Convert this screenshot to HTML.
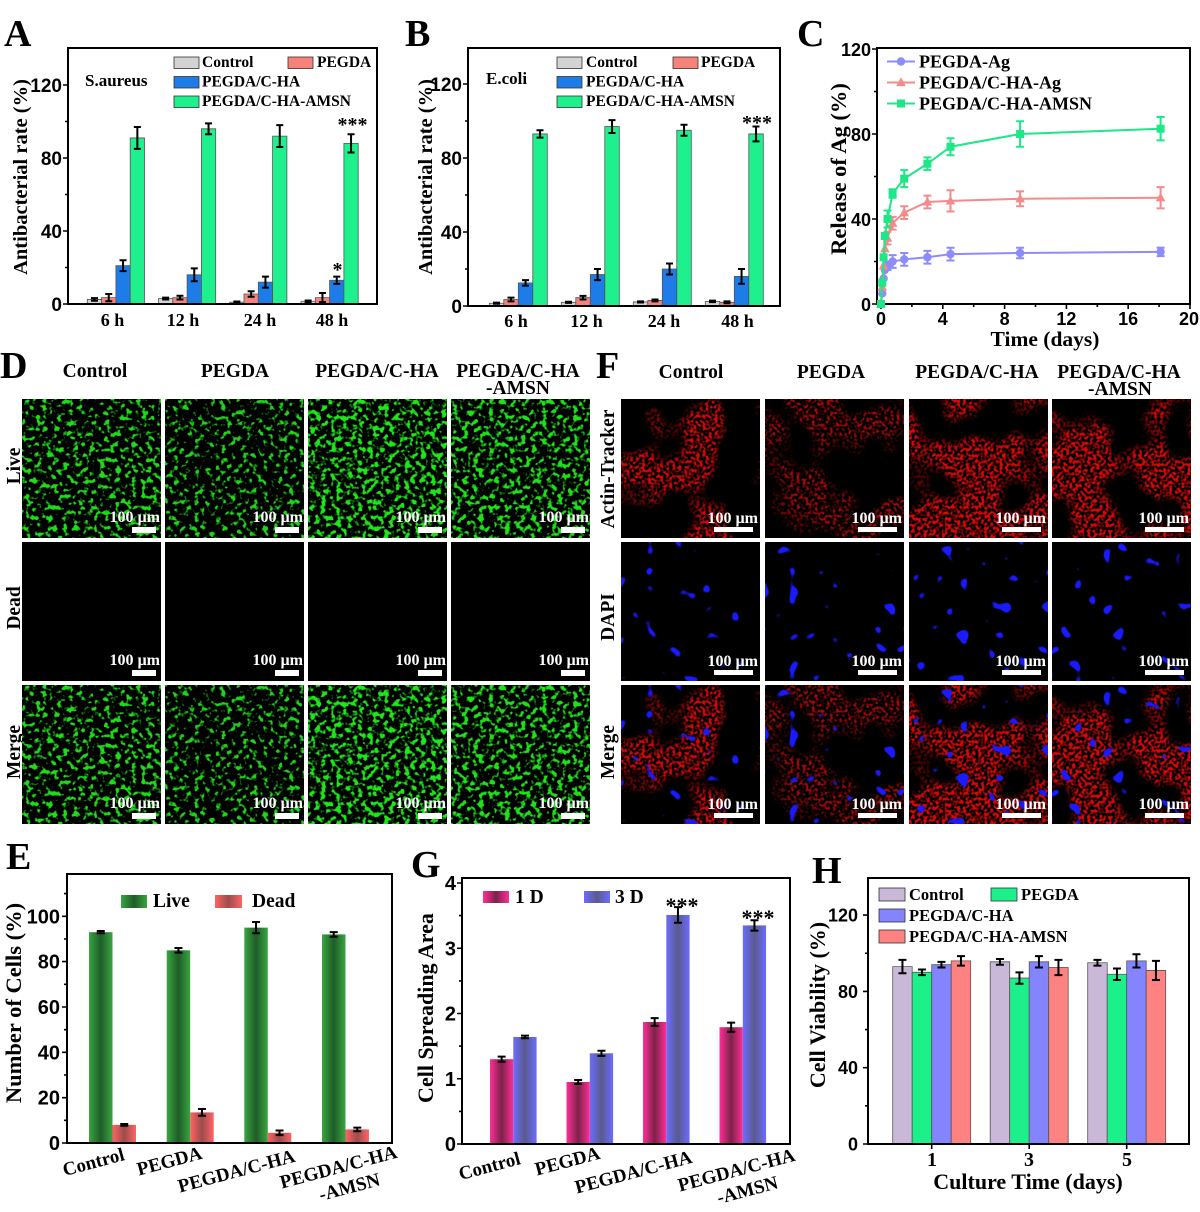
<!DOCTYPE html>
<html><head><meta charset="utf-8">
<style>
body{margin:0;background:#fff}
svg{display:block}
.t{font-family:"Liberation Serif",serif;font-weight:bold}
.n{font-family:"Liberation Sans",sans-serif;font-weight:bold}
.eb{stroke:#000;stroke-width:2;fill:none;vector-effect:non-scaling-stroke}
.bar{stroke:#555;stroke-width:0.8;vector-effect:non-scaling-stroke}
.ax{fill:none;stroke:#000;stroke-width:2}
.tk{fill:none;stroke:#000;stroke-width:1.6}
.sb{fill:#fff;font-family:"Liberation Serif",serif;font-weight:bold;font-size:16px}
</style></head><body>
<svg width="1200" height="1212" viewBox="0 0 1200 1212" xmlns="http://www.w3.org/2000/svg" xmlns:xlink="http://www.w3.org/1999/xlink">
<defs>
<linearGradient id="gLive" x1="0" x2="1" y1="0" y2="0"><stop offset="0" stop-color="#3aa540"/><stop offset="0.5" stop-color="#1e5c28"/><stop offset="1" stop-color="#3aa540"/></linearGradient>
<linearGradient id="gDead" x1="0" x2="1" y1="0" y2="0"><stop offset="0" stop-color="#ff6464"/><stop offset="0.5" stop-color="#9c4c4c"/><stop offset="1" stop-color="#ff6464"/></linearGradient>
<linearGradient id="g1D" x1="0" x2="1" y1="0" y2="0"><stop offset="0" stop-color="#ff2e96"/><stop offset="0.5" stop-color="#7c2249"/><stop offset="1" stop-color="#ff2e96"/></linearGradient>
<linearGradient id="g3D" x1="0" x2="1" y1="0" y2="0"><stop offset="0" stop-color="#6c6cff"/><stop offset="0.5" stop-color="#5a5a8e"/><stop offset="1" stop-color="#6c6cff"/></linearGradient>
<circle id="ci" r="4.2"/>
<path id="tri" d="M0 -5.2L4.8 3.6L-4.8 3.6Z"/>
<rect id="sq" x="-4" y="-4" width="8" height="8"/>

<filter id="gf1" x="0" y="0" width="1" height="1" color-interpolation-filters="sRGB">
 <feTurbulence type="fractalNoise" baseFrequency="0.19" numOctaves="2" seed="3"/>
 <feColorMatrix type="matrix" values="0 0 0 0 0.12  0 0 0 0 0.86  0 0 0 0 0.1  0 7 0 0 -3.68"/>
</filter>
<filter id="gf2" x="0" y="0" width="1" height="1" color-interpolation-filters="sRGB">
 <feTurbulence type="fractalNoise" baseFrequency="0.19" numOctaves="2" seed="8"/>
 <feColorMatrix type="matrix" values="0 0 0 0 0.12  0 0 0 0 0.83  0 0 0 0 0.1  0 7 0 0 -3.8"/>
</filter>
<filter id="gf3" x="0" y="0" width="1" height="1" color-interpolation-filters="sRGB">
 <feTurbulence type="fractalNoise" baseFrequency="0.19" numOctaves="2" seed="13"/>
 <feColorMatrix type="matrix" values="0 0 0 0 0.12  0 0 0 0 0.9  0 0 0 0 0.1  0 7 0 0 -3.45"/>
</filter>
<filter id="gf4" x="0" y="0" width="1" height="1" color-interpolation-filters="sRGB">
 <feTurbulence type="fractalNoise" baseFrequency="0.19" numOctaves="2" seed="19"/>
 <feColorMatrix type="matrix" values="0 0 0 0 0.12  0 0 0 0 0.88  0 0 0 0 0.1  0 7 0 0 -3.55"/>
</filter>

<filter id="rf1" x="0" y="0" width="1" height="1" color-interpolation-filters="sRGB">
 <feTurbulence type="fractalNoise" baseFrequency="0.018" numOctaves="2" seed="11"/>
 <feColorMatrix type="matrix" values="0 0 0 0 0.82  0 0 0 0 0.03  0 0 0 0 0.03  8 0 0 0 -4.0" result="m"/>
 <feTurbulence type="fractalNoise" baseFrequency="0.33" numOctaves="1" seed="4"/>
 <feColorMatrix type="matrix" values="0 0 0 0 0  0 0 0 0 0  0 0 0 0 0  5 0 0 0 -2.15" result="f"/>
 <feComposite in="m" in2="f" operator="in"/>
</filter>
<filter id="rf2" x="0" y="0" width="1" height="1" color-interpolation-filters="sRGB">
 <feTurbulence type="fractalNoise" baseFrequency="0.018" numOctaves="2" seed="23"/>
 <feColorMatrix type="matrix" values="0 0 0 0 0.64  0 0 0 0 0.03  0 0 0 0 0.03  8 0 0 0 -3.5" result="m"/>
 <feTurbulence type="fractalNoise" baseFrequency="0.33" numOctaves="1" seed="6"/>
 <feColorMatrix type="matrix" values="0 0 0 0 0  0 0 0 0 0  0 0 0 0 0  5 0 0 0 -2.3" result="f"/>
 <feComposite in="m" in2="f" operator="in"/>
</filter>
<filter id="rf3" x="0" y="0" width="1" height="1" color-interpolation-filters="sRGB">
 <feTurbulence type="fractalNoise" baseFrequency="0.018" numOctaves="2" seed="31"/>
 <feColorMatrix type="matrix" values="0 0 0 0 0.84  0 0 0 0 0.03  0 0 0 0 0.03  8 0 0 0 -3.3" result="m"/>
 <feTurbulence type="fractalNoise" baseFrequency="0.33" numOctaves="1" seed="9"/>
 <feColorMatrix type="matrix" values="0 0 0 0 0  0 0 0 0 0  0 0 0 0 0  5 0 0 0 -2.1" result="f"/>
 <feComposite in="m" in2="f" operator="in"/>
</filter>
<filter id="rf4" x="0" y="0" width="1" height="1" color-interpolation-filters="sRGB">
 <feTurbulence type="fractalNoise" baseFrequency="0.018" numOctaves="2" seed="41"/>
 <feColorMatrix type="matrix" values="0 0 0 0 0.84  0 0 0 0 0.03  0 0 0 0 0.03  8 0 0 0 -3.6" result="m"/>
 <feTurbulence type="fractalNoise" baseFrequency="0.33" numOctaves="1" seed="12"/>
 <feColorMatrix type="matrix" values="0 0 0 0 0  0 0 0 0 0  0 0 0 0 0  5 0 0 0 -2.1" result="f"/>
 <feComposite in="m" in2="f" operator="in"/>
</filter>

<filter id="bf1" x="0" y="0" width="1" height="1" color-interpolation-filters="sRGB">
 <feTurbulence type="fractalNoise" baseFrequency="0.07" numOctaves="1" seed="21"/>
 <feColorMatrix type="matrix" values="0 0 0 0 0.1  0 0 0 0 0.1  0 0 0 0 1  0 0 24 0 -16"/>
</filter>
<filter id="bf2" x="0" y="0" width="1" height="1" color-interpolation-filters="sRGB">
 <feTurbulence type="fractalNoise" baseFrequency="0.07" numOctaves="1" seed="37"/>
 <feColorMatrix type="matrix" values="0 0 0 0 0.1  0 0 0 0 0.1  0 0 0 0 1  0 0 24 0 -16"/>
</filter>
</defs>

<rect width="1200" height="1212" fill="#fff"/>

<!-- ================= PANEL A ================= -->
<text class="t" x="4" y="46" font-size="38">A</text>
<g transform="matrix(1 0 0 -1.825 0 304)">
 <rect class="bar" x="87.3" y="0" width="14.3" height="2.5" fill="#d3d3d3"/>
 <rect class="bar" x="101.6" y="0" width="14.3" height="3.5" fill="#f7827c"/>
 <rect class="bar" x="115.9" y="0" width="14.3" height="21" fill="#1e7ce8"/>
 <rect class="bar" x="130.2" y="0" width="14.3" height="91" fill="#1df08c"/>
 <rect class="bar" x="158.5" y="0" width="14.3" height="3" fill="#d3d3d3"/>
 <rect class="bar" x="172.8" y="0" width="14.3" height="3.5" fill="#f7827c"/>
 <rect class="bar" x="187.1" y="0" width="14.3" height="16" fill="#1e7ce8"/>
 <rect class="bar" x="201.4" y="0" width="14.3" height="96" fill="#1df08c"/>
 <rect class="bar" x="229.7" y="0" width="14.3" height="1" fill="#d3d3d3"/>
 <rect class="bar" x="244.0" y="0" width="14.3" height="5.5" fill="#f7827c"/>
 <rect class="bar" x="258.3" y="0" width="14.3" height="12" fill="#1e7ce8"/>
 <rect class="bar" x="272.6" y="0" width="14.3" height="92" fill="#1df08c"/>
 <rect class="bar" x="301" y="0" width="14.3" height="1.5" fill="#d3d3d3"/>
 <rect class="bar" x="315.3" y="0" width="14.3" height="3.5" fill="#f7827c"/>
 <rect class="bar" x="329.6" y="0" width="14.3" height="13" fill="#1e7ce8"/>
 <rect class="bar" x="343.9" y="0" width="14.3" height="88" fill="#1df08c"/>
 <path class="eb" d="M94.45 1.8V3.2M91 1.8H98M91 3.2H98M165.65 2.5V3.5M162.15 2.5H169.15M162.15 3.5H169.15M236.85 0.6V1.4M233.35 0.6H240.35M233.35 1.4H240.35M308.15 1.1V1.9M304.65 1.1H311.65M304.65 1.9H311.65
 M108.75 1.5V5.5M105.25 1.5H112.25M105.25 5.5H112.25M179.95 2.5V4.5M176.45 2.5H183.45M176.45 4.5H183.45M251.15 4V7M247.65 4H254.65M247.65 7H254.65M322.45 1V6M318.95 1H325.95M318.95 6H325.95
 M123.05 18V24M119.55 18H126.55M119.55 24H126.55M194.25 12.5V19.5M190.75 12.5H197.75M190.75 19.5H197.75M265.45 9V15M261.95 9H268.95M261.95 15H268.95M336.75 11V15M333.25 11H340.25M333.25 15H340.25
 M137.35 85V97M133.85 85H140.85M133.85 97H140.85M208.55 93V99M205.05 93H212.05M205.05 99H212.05M279.75 86V98M276.25 86H283.25M276.25 98H283.25M351.05 83V93M347.55 83H354.55M347.55 93H354.55"/>
</g>
<rect class="ax" x="68" y="48" width="309" height="256"/>
<path class="tk" d="M63 304H68M63 231H68M63 158H68M63 85H68M65 267.5H68M65 194.5H68M65 121.5H68"/>
<g class="n" font-size="19" text-anchor="end">
 <text x="62" y="311">0</text><text x="62" y="238">40</text><text x="62" y="165">80</text><text x="62" y="92">120</text>
</g>
<g class="t" font-size="18" text-anchor="middle">
 <text x="112.5" y="326">6 h</text><text x="183" y="326">12 h</text><text x="260" y="326">24 h</text><text x="332" y="326">48 h</text>
</g>
<text class="t" font-size="20.5" text-anchor="middle" transform="translate(27,177) rotate(-90)">Antibacterial rate (%)</text>
<text class="t" x="85" y="86" font-size="17">S.aureus</text>
<g stroke="#333" stroke-width="0.8">
 <rect x="174" y="57" width="25" height="11.5" fill="#d3d3d3"/>
 <rect x="288" y="57" width="25" height="11.5" fill="#f7827c"/>
 <rect x="174" y="76.5" width="25" height="11.5" fill="#1e7ce8"/>
 <rect x="174" y="96" width="25" height="11.5" fill="#1df08c"/>
</g>
<g class="t" font-size="15.5">
 <text x="202" y="67">Control</text><text x="317" y="67">PEGDA</text>
 <text x="202" y="86.5">PEGDA/C-HA</text><text x="202" y="106">PEGDA/C-HA-AMSN</text>
</g>
<text class="t" x="352.5" y="131" font-size="20" text-anchor="middle">***</text>
<text class="t" x="337.5" y="276" font-size="20" text-anchor="middle">*</text>

<!-- ================= PANEL B ================= -->
<text class="t" x="405" y="46" font-size="38">B</text>
<g transform="matrix(1 0 0 -1.85 0 306)">
 <rect class="bar" x="489.3" y="0" width="14.5" height="1.5" fill="#d3d3d3"/>
 <rect class="bar" x="503.8" y="0" width="14.5" height="3.5" fill="#f7827c"/>
 <rect class="bar" x="518.3" y="0" width="14.5" height="12.5" fill="#1e7ce8"/>
 <rect class="bar" x="532.8" y="0" width="14.5" height="93" fill="#1df08c"/>
 <rect class="bar" x="561.3" y="0" width="14.5" height="2" fill="#d3d3d3"/>
 <rect class="bar" x="575.8" y="0" width="14.5" height="4.5" fill="#f7827c"/>
 <rect class="bar" x="590.3" y="0" width="14.5" height="17" fill="#1e7ce8"/>
 <rect class="bar" x="604.8" y="0" width="14.5" height="97" fill="#1df08c"/>
 <rect class="bar" x="633.3" y="0" width="14.5" height="2.2" fill="#d3d3d3"/>
 <rect class="bar" x="647.8" y="0" width="14.5" height="3" fill="#f7827c"/>
 <rect class="bar" x="662.3" y="0" width="14.5" height="20" fill="#1e7ce8"/>
 <rect class="bar" x="676.8" y="0" width="14.5" height="95" fill="#1df08c"/>
 <rect class="bar" x="705.3" y="0" width="14.5" height="2.5" fill="#d3d3d3"/>
 <rect class="bar" x="719.8" y="0" width="14.5" height="2" fill="#f7827c"/>
 <rect class="bar" x="734.3" y="0" width="14.5" height="16" fill="#1e7ce8"/>
 <rect class="bar" x="748.8" y="0" width="14.5" height="93" fill="#1df08c"/>
 <path class="eb" d="M496.55 1.2V1.8M493 1.2H500M493 1.8H500M568.55 1.7V2.3M565 1.7H572M565 2.3H572M640.55 1.9V2.5M637 1.9H644M637 2.5H644M712.55 2.1V2.9M709 2.1H716M709 2.9H716
 M511.05 2.5V4.5M507.5 2.5H514.5M507.5 4.5H514.5M583.05 3.5V5.5M579.5 3.5H586.5M579.5 5.5H586.5M655.05 2.5V3.5M651.5 2.5H658.5M651.5 3.5H658.5M727.05 1.5V2.5M723.5 1.5H730.5M723.5 2.5H730.5
 M525.55 11V14M522 11H529M522 14H529M597.55 14V20M594 14H601M594 20H601M669.55 17V23M666 17H673M666 23H673M741.55 12V20M738 12H745M738 20H745
 M540.05 91V95M536.5 91H543.5M536.5 95H543.5M612.05 93.5V100.5M608.5 93.5H615.5M608.5 100.5H615.5M684.05 92V98M680.5 92H687.5M680.5 98H687.5M756.05 89V97M752.5 89H759.5M752.5 97H759.5"/>
</g>
<rect class="ax" x="468" y="48" width="312" height="258"/>
<path class="tk" d="M463 306H468M463 232H468M463 158H468M463 84H468M465 269H468M465 195H468M465 121H468"/>
<g class="n" font-size="19" text-anchor="end">
 <text x="462" y="313">0</text><text x="462" y="239">40</text><text x="462" y="165">80</text><text x="462" y="91">120</text>
</g>
<g class="t" font-size="18" text-anchor="middle">
 <text x="516" y="327">6 h</text><text x="586.5" y="327">12 h</text><text x="664" y="327">24 h</text><text x="737.5" y="327">48 h</text>
</g>
<text class="t" font-size="20.5" text-anchor="middle" transform="translate(432,177) rotate(-90)">Antibacterial rate (%)</text>
<text class="t" x="486" y="84" font-size="17">E.coli</text>
<g stroke="#333" stroke-width="0.8">
 <rect x="557" y="57" width="25" height="11.5" fill="#d3d3d3"/>
 <rect x="673" y="57" width="25" height="11.5" fill="#f7827c"/>
 <rect x="557" y="76.5" width="25" height="11.5" fill="#1e7ce8"/>
 <rect x="557" y="96" width="25" height="11.5" fill="#1df08c"/>
</g>
<g class="t" font-size="15.5">
 <text x="586" y="67">Control</text><text x="701" y="67">PEGDA</text>
 <text x="586" y="86.5">PEGDA/C-HA</text><text x="586" y="106">PEGDA/C-HA-AMSN</text>
</g>
<text class="t" x="757" y="129" font-size="20" text-anchor="middle">***</text>

<!-- ================= PANEL C ================= -->
<text class="t" x="797" y="46" font-size="38">C</text>
<rect class="ax" x="877" y="48" width="313" height="256"/>
<path class="tk" d="M872 304H877M872 219H877M872 134H877M872 49H877M874 261.5H877M874 176.5H877M874 91.5H877
 M881 304V309M942.8 304V309M1004.6 304V309M1066.4 304V309M1128.2 304V309M1190 304V309M911.9 304V307M973.7 304V307M1035.5 304V307M1097.3 304V307M1159.1 304V307"/>
<g class="n" font-size="18" text-anchor="end">
 <text x="871" y="311">0</text><text x="871" y="226">40</text><text x="871" y="141">80</text><text x="871" y="56">120</text>
</g>
<g class="n" font-size="18" text-anchor="middle">
 <text x="881" y="325">0</text><text x="942.8" y="325">4</text><text x="1004.6" y="325">8</text><text x="1066.4" y="325">12</text><text x="1128.2" y="325">16</text><text x="1189" y="325">20</text>
</g>
<text class="t" x="1045" y="346" font-size="21.5" text-anchor="middle">Time (days)</text>
<text class="t" font-size="22.5" text-anchor="middle" transform="translate(846,169) rotate(-90)">Release of Ag (%)</text>
<!-- blue -->
<g stroke="#8c8cff" fill="#8c8cff">
 <polyline fill="none" stroke-width="2" points="881,304 882.3,293.4 883.6,278.5 884.9,270 887.5,265.75 892.6,261.5 904.2,259.4 927.4,257.25 950.5,254.1 1020.1,253 1160.6,251.9"/>
 <path fill="none" stroke-width="2" d="M887.5 261.5V270M883.5 261.5H891.5M883.5 270H891.5M892.6 255.1V267.9M888.6 255.1H896.6M888.6 267.9H896.6M904.2 253V265.8M900.2 253H908.2M900.2 265.8H908.2M927.4 250.85V263.65M923.4 250.85H931.4M923.4 263.65H931.4M950.5 247.7V260.5M946.5 247.7H954.5M946.5 260.5H954.5M1020.1 247.7V258.3M1016.1 247.7H1024.1M1016.1 258.3H1024.1M1160.6 247.65V256.15M1156.6 247.65H1164.6M1156.6 256.15H1164.6"/>
 <g stroke="none">
 <use xlink:href="#ci" x="881" y="304"/><use xlink:href="#ci" x="882.3" y="293.4"/><use xlink:href="#ci" x="883.6" y="278.5"/><use xlink:href="#ci" x="884.9" y="270"/><use xlink:href="#ci" x="887.5" y="265.75"/><use xlink:href="#ci" x="892.6" y="261.5"/><use xlink:href="#ci" x="904.2" y="259.4"/><use xlink:href="#ci" x="927.4" y="257.25"/><use xlink:href="#ci" x="950.5" y="254.1"/><use xlink:href="#ci" x="1020.1" y="253"/><use xlink:href="#ci" x="1160.6" y="251.9"/>
 </g>
</g>
<!-- red -->
<g stroke="#f48a8a" fill="#f48a8a">
 <polyline fill="none" stroke-width="2" points="881,304 882.3,287 883.6,265.75 884.9,248.75 887.5,238.1 892.6,223.25 904.2,212.6 927.4,202 950.5,200.9 1020.1,198.8 1160.6,197.75"/>
 <path fill="none" stroke-width="2" d="M887.5 231.7V244.5M883.5 231.7H891.5M883.5 244.5H891.5M892.6 216.85V229.65M888.6 216.85H896.6M888.6 229.65H896.6M904.2 206.2V219M900.2 206.2H908.2M900.2 219H908.2M927.4 195.6V208.4M923.4 195.6H931.4M923.4 208.4H931.4M950.5 190.3V211.5M946.5 190.3H954.5M946.5 211.5H954.5M1020.1 191.4V206.2M1016.1 191.4H1024.1M1016.1 206.2H1024.1M1160.6 187.15V208.35M1156.6 187.15H1164.6M1156.6 208.35H1164.6"/>
 <g stroke="none">
 <use xlink:href="#tri" x="881" y="304"/><use xlink:href="#tri" x="882.3" y="287"/><use xlink:href="#tri" x="883.6" y="265.75"/><use xlink:href="#tri" x="884.9" y="248.75"/><use xlink:href="#tri" x="887.5" y="238.1"/><use xlink:href="#tri" x="892.6" y="223.25"/><use xlink:href="#tri" x="904.2" y="212.6"/><use xlink:href="#tri" x="927.4" y="202"/><use xlink:href="#tri" x="950.5" y="200.9"/><use xlink:href="#tri" x="1020.1" y="198.8"/><use xlink:href="#tri" x="1160.6" y="197.75"/>
 </g>
</g>
<!-- green -->
<g stroke="#1de887" fill="#1de887">
 <polyline fill="none" stroke-width="2" points="881,304 882.3,282.75 883.6,257.25 884.9,236 887.5,219 892.6,193.5 904.2,178.6 927.4,163.75 950.5,146.75 1020.1,134 1160.6,128.7"/>
 <path fill="none" stroke-width="2" d="M887.5 210.5V227.5M883.5 210.5H891.5M883.5 227.5H891.5M892.6 189.25V197.75M888.6 189.25H896.6M888.6 197.75H896.6M904.2 170.1V187.1M900.2 170.1H908.2M900.2 187.1H908.2M927.4 157.35V170.15M923.4 157.35H931.4M923.4 170.15H931.4M950.5 138.25V155.25M946.5 138.25H954.5M946.5 155.25H954.5M1020.1 121.25V146.75M1016.1 121.25H1024.1M1016.1 146.75H1024.1M1160.6 117V140.4M1156.6 117H1164.6M1156.6 140.4H1164.6"/>
 <g stroke="none">
 <use xlink:href="#sq" x="881" y="304"/><use xlink:href="#sq" x="882.3" y="282.75"/><use xlink:href="#sq" x="883.6" y="257.25"/><use xlink:href="#sq" x="884.9" y="236"/><use xlink:href="#sq" x="887.5" y="219"/><use xlink:href="#sq" x="892.6" y="193.5"/><use xlink:href="#sq" x="904.2" y="178.6"/><use xlink:href="#sq" x="927.4" y="163.75"/><use xlink:href="#sq" x="950.5" y="146.75"/><use xlink:href="#sq" x="1020.1" y="134"/><use xlink:href="#sq" x="1160.6" y="128.7"/>
 </g>
</g>
<!-- legend C -->
<path d="M887 61.5H915" stroke="#8c8cff" stroke-width="2"/><use xlink:href="#ci" x="901" y="61.5" fill="#8c8cff"/>
<path d="M887 82.5H915" stroke="#f48a8a" stroke-width="2"/><use xlink:href="#tri" x="901" y="82.5" fill="#f48a8a"/>
<path d="M887 103.5H915" stroke="#1de887" stroke-width="2"/><use xlink:href="#sq" x="901" y="103.5" fill="#1de887"/>
<g class="t" font-size="18">
 <text x="919" y="67.5">PEGDA-Ag</text><text x="919" y="88.5">PEGDA/C-HA-Ag</text><text x="919" y="109.5">PEGDA/C-HA-AMSN</text>
</g>

<!-- ================= PANEL D ================= -->
<text class="t" x="0" y="378" font-size="38">D</text>
<g class="t" font-size="19.5" text-anchor="middle">
 <text x="95" y="377">Control</text><text x="235" y="377">PEGDA</text><text x="377" y="377">PEGDA/C-HA</text>
 <text x="518" y="377">PEGDA/C-HA</text><text x="518" y="394">-AMSN</text>
 <text transform="translate(20,466) rotate(-90)">Live</text>
 <text transform="translate(20,608) rotate(-90)">Dead</text>
 <text transform="translate(20,752) rotate(-90)">Merge</text>
</g>
<g id="L1"><rect x="22" y="399" width="139" height="139" fill="#000"/><rect x="22" y="399" width="139" height="139" filter="url(#gf1)"/></g>
<g id="L2"><rect x="165" y="399" width="139" height="139" fill="#000"/><rect x="165" y="399" width="139" height="139" filter="url(#gf2)"/></g>
<g id="L3"><rect x="308" y="399" width="139" height="139" fill="#000"/><rect x="308" y="399" width="139" height="139" filter="url(#gf3)"/></g>
<g id="L4"><rect x="451" y="399" width="139" height="139" fill="#000"/><rect x="451" y="399" width="139" height="139" filter="url(#gf4)"/></g>
<rect x="22" y="542" width="139" height="139" fill="#000"/>
<rect x="165" y="542" width="139" height="139" fill="#000"/>
<rect x="308" y="542" width="139" height="139" fill="#000"/>
<rect x="451" y="542" width="139" height="139" fill="#000"/>
<use xlink:href="#L1" y="286"/><use xlink:href="#L2" y="286"/><use xlink:href="#L3" y="286"/><use xlink:href="#L4" y="286"/>
<g fill="#fff">
 <rect x="132" y="527" width="24" height="6"/><rect x="275" y="527" width="24" height="6"/><rect x="418" y="527" width="24" height="6"/><rect x="561" y="527" width="24" height="6"/>
 <rect x="132" y="670" width="24" height="6"/><rect x="275" y="670" width="24" height="6"/><rect x="418" y="670" width="24" height="6"/><rect x="561" y="670" width="24" height="6"/>
 <rect x="132" y="813" width="24" height="6"/><rect x="275" y="813" width="24" height="6"/><rect x="418" y="813" width="24" height="6"/><rect x="561" y="813" width="24" height="6"/>
</g>
<g class="sb" text-anchor="end">
 <text x="160" y="522">100 µm</text><text x="303" y="522">100 µm</text><text x="446" y="522">100 µm</text><text x="589" y="522">100 µm</text>
 <text x="160" y="665">100 µm</text><text x="303" y="665">100 µm</text><text x="446" y="665">100 µm</text><text x="589" y="665">100 µm</text>
 <text x="160" y="808">100 µm</text><text x="303" y="808">100 µm</text><text x="446" y="808">100 µm</text><text x="589" y="808">100 µm</text>
</g>

<!-- ================= PANEL F ================= -->
<text class="t" x="596" y="378" font-size="38">F</text>
<g class="t" font-size="19.5" text-anchor="middle">
 <text x="691" y="378">Control</text><text x="831" y="378">PEGDA</text><text x="977" y="378">PEGDA/C-HA</text>
 <text x="1119" y="378">PEGDA/C-HA</text><text x="1120" y="395">-AMSN</text>
 <text transform="translate(614,469) rotate(-90)">Actin-Tracker</text>
 <text transform="translate(614,617) rotate(-90)">DAPI</text>
 <text transform="translate(614,752) rotate(-90)">Merge</text>
</g>
<g id="A1"><rect x="621" y="399" width="139" height="139" fill="#000"/><rect x="621" y="399" width="139" height="139" filter="url(#rf1)"/></g>
<g id="A2"><rect x="765" y="399" width="139" height="139" fill="#000"/><rect x="765" y="399" width="139" height="139" filter="url(#rf2)"/></g>
<g id="A3"><rect x="909" y="399" width="139" height="139" fill="#000"/><rect x="909" y="399" width="139" height="139" filter="url(#rf3)"/></g>
<g id="A4"><rect x="1052" y="399" width="139" height="139" fill="#000"/><rect x="1052" y="399" width="139" height="139" filter="url(#rf4)"/></g>
<rect x="621" y="542" width="139" height="139" fill="#000"/>
<rect x="765" y="542" width="139" height="139" fill="#000"/>
<rect x="909" y="542" width="139" height="139" fill="#000"/>
<rect x="1052" y="542" width="139" height="139" fill="#000"/>
<rect id="N1" x="621" y="542" width="139" height="139" filter="url(#bf1)"/>
<rect id="N2" x="765" y="542" width="139" height="139" filter="url(#bf2)"/>
<rect id="N3" x="909" y="542" width="139" height="139" filter="url(#bf1)"/>
<rect id="N4" x="1052" y="542" width="139" height="139" filter="url(#bf2)"/>
<use xlink:href="#A1" y="286"/><use xlink:href="#A2" y="286"/><use xlink:href="#A3" y="286"/><use xlink:href="#A4" y="286"/>
<use xlink:href="#N1" y="143"/><use xlink:href="#N2" y="143"/><use xlink:href="#N3" y="143"/><use xlink:href="#N4" y="143"/>
<g fill="#fff">
 <rect x="714" y="527" width="39" height="5"/><rect x="858" y="527" width="39" height="5"/><rect x="1002" y="527" width="39" height="5"/><rect x="1145" y="527" width="39" height="5"/>
 <rect x="714" y="670" width="39" height="5"/><rect x="858" y="670" width="39" height="5"/><rect x="1002" y="670" width="39" height="5"/><rect x="1145" y="670" width="39" height="5"/>
 <rect x="714" y="813" width="39" height="5"/><rect x="858" y="813" width="39" height="5"/><rect x="1002" y="813" width="39" height="5"/><rect x="1145" y="813" width="39" height="5"/>
</g>
<g class="sb" text-anchor="end">
 <text x="758" y="523">100 µm</text><text x="902" y="523">100 µm</text><text x="1046" y="523">100 µm</text><text x="1189" y="523">100 µm</text>
 <text x="758" y="666">100 µm</text><text x="902" y="666">100 µm</text><text x="1046" y="666">100 µm</text><text x="1189" y="666">100 µm</text>
 <text x="758" y="809">100 µm</text><text x="902" y="809">100 µm</text><text x="1046" y="809">100 µm</text><text x="1189" y="809">100 µm</text>
</g>

<!-- ================= PANEL E ================= -->
<text class="t" x="6" y="869" font-size="38">E</text>
<g transform="matrix(1 0 0 -2.267 0 1143)">
 <rect x="89" y="0" width="23.5" height="93" fill="url(#gLive)"/>
 <rect x="112.5" y="0" width="23.5" height="8" fill="url(#gDead)"/>
 <rect x="166.7" y="0" width="23.5" height="85" fill="url(#gLive)"/>
 <rect x="190.2" y="0" width="23.5" height="13.5" fill="url(#gDead)"/>
 <rect x="244.3" y="0" width="23.5" height="95" fill="url(#gLive)"/>
 <rect x="267.8" y="0" width="23.5" height="4.5" fill="url(#gDead)"/>
 <rect x="322" y="0" width="23.5" height="92" fill="url(#gLive)"/>
 <rect x="345.5" y="0" width="23.5" height="6" fill="url(#gDead)"/>
 <path class="eb" d="M100.75 92.5V93.5M96.75 92.5H104.75M96.75 93.5H104.75M178.45 84V86M174.45 84H182.45M174.45 86H182.45M256.05 92.5V97.5M252.05 92.5H260.05M252.05 97.5H260.05M333.75 91V93M329.75 91H337.75M329.75 93H337.75
 M124.25 7.6V8.4M120.25 7.6H128.25M120.25 8.4H128.25M201.95 12V15M197.95 12H205.95M197.95 15H205.95M279.55 3.5V5.5M275.55 3.5H283.55M275.55 5.5H283.55M357.25 5.2V6.8M353.25 5.2H361.25M353.25 6.8H361.25"/>
</g>
<rect class="ax" x="67" y="874" width="325" height="269"/>
<path class="tk" d="M62 1143H67M62 1097.7H67M62 1052.3H67M62 1007H67M62 961.6H67M62 916.3H67M64 1120.3H67M64 1075H67M64 1029.7H67M64 984.3H67M64 939H67M64 893.6H67"/>
<g class="n" font-size="20" text-anchor="end">
 <text x="60" y="1150">0</text><text x="60" y="1104.7">20</text><text x="60" y="1059.3">40</text><text x="60" y="1014">60</text><text x="60" y="968.6">80</text><text x="60" y="923.3">100</text>
</g>
<text class="t" font-size="22.5" text-anchor="middle" transform="translate(21,1003) rotate(-90)">Number of Cells (%)</text>
<rect x="121" y="895" width="26" height="13" fill="url(#gLive)"/>
<rect x="215" y="895" width="27" height="13" fill="url(#gDead)"/>
<g class="t" font-size="19.5"><text x="153" y="907">Live</text><text x="252" y="907">Dead</text></g>
<g class="t" font-size="19" text-anchor="middle">
 <text transform="translate(95,1168) rotate(-15)">Control</text>
 <text transform="translate(171,1167) rotate(-15)">PEGDA</text>
 <text transform="translate(238,1177) rotate(-15)">PEGDA/C-HA</text>
 <text transform="translate(340,1173) rotate(-15)">PEGDA/C-HA</text>
 <text transform="translate(351,1193) rotate(-15)">-AMSN</text>
</g>

<!-- ================= PANEL G ================= -->
<text class="t" x="411" y="877" font-size="38">G</text>
<g transform="matrix(1 0 0 -65.25 0 1144)">
 <rect x="490" y="0" width="23.3" height="1.30" fill="url(#g1D)"/>
 <rect x="513.3" y="0" width="23.3" height="1.64" fill="url(#g3D)"/>
 <rect x="566.5" y="0" width="23.3" height="0.95" fill="url(#g1D)"/>
 <rect x="589.8" y="0" width="23.3" height="1.39" fill="url(#g3D)"/>
 <rect x="643" y="0" width="23.3" height="1.87" fill="url(#g1D)"/>
 <rect x="666.3" y="0" width="23.3" height="3.51" fill="url(#g3D)"/>
 <rect x="719.5" y="0" width="23.3" height="1.79" fill="url(#g1D)"/>
 <rect x="742.8" y="0" width="23.3" height="3.35" fill="url(#g3D)"/>
 <path class="eb" d="M501.65 1.26V1.34M497.65 1.26H505.65M497.65 1.34H505.65M578.15 0.92V0.98M574.15 0.92H582.15M574.15 0.98H582.15M654.65 1.81V1.93M650.65 1.81H658.65M650.65 1.93H658.65M731.15 1.72V1.86M727.15 1.72H735.15M727.15 1.86H735.15
 M524.95 1.62V1.66M520.95 1.62H528.95M520.95 1.66H528.95M601.45 1.35V1.43M597.45 1.35H605.45M597.45 1.43H605.45M677.95 3.39V3.63M673.95 3.39H681.95M673.95 3.63H681.95M754.45 3.27V3.43M750.45 3.27H758.45M750.45 3.43H758.45"/>
</g>
<rect class="ax" x="462" y="878" width="328" height="266"/>
<path class="tk" d="M457 1144H462M457 1078.75H462M457 1013.5H462M457 948.25H462M457 883H462M459 1111.4H462M459 1046.1H462M459 980.9H462M459 915.6H462"/>
<g class="n" font-size="20" text-anchor="end">
 <text x="456" y="1151">0</text><text x="456" y="1085.75">1</text><text x="456" y="1020.5">2</text><text x="456" y="955.25">3</text><text x="456" y="890">4</text>
</g>
<text class="t" font-size="22" text-anchor="middle" transform="translate(433,1008) rotate(-90)">Cell Spreading Area</text>
<rect x="483" y="891" width="26" height="12" fill="url(#g1D)"/>
<rect x="584" y="891" width="26" height="12" fill="url(#g3D)"/>
<g class="t" font-size="19.5"><text x="515" y="903">1 D</text><text x="615" y="903">3 D</text></g>
<text class="t" x="682" y="913" font-size="22" text-anchor="middle">***</text>
<text class="t" x="758" y="925" font-size="22" text-anchor="middle">***</text>
<g class="t" font-size="19" text-anchor="middle">
 <text transform="translate(491,1172) rotate(-15)">Control</text>
 <text transform="translate(569,1167) rotate(-15)">PEGDA</text>
 <text transform="translate(635,1178) rotate(-15)">PEGDA/C-HA</text>
 <text transform="translate(738,1176) rotate(-15)">PEGDA/C-HA</text>
 <text transform="translate(749,1196) rotate(-15)">-AMSN</text>
</g>

<!-- ================= PANEL H ================= -->
<text class="t" x="812" y="883" font-size="38">H</text>
<g transform="matrix(1 0 0 -1.9075 0 1144)">
 <rect class="bar" x="892.7" y="0" width="19.5" height="93" fill="#c9b8d8"/>
 <rect class="bar" x="912.2" y="0" width="19.5" height="90" fill="#1cf08a"/>
 <rect class="bar" x="931.7" y="0" width="19.5" height="94" fill="#8484ff"/>
 <rect class="bar" x="951.2" y="0" width="19.5" height="96" fill="#ff8282"/>
 <rect class="bar" x="990.2" y="0" width="19.5" height="95.5" fill="#c9b8d8"/>
 <rect class="bar" x="1009.7" y="0" width="19.5" height="87" fill="#1cf08a"/>
 <rect class="bar" x="1029.2" y="0" width="19.5" height="95.5" fill="#8484ff"/>
 <rect class="bar" x="1048.7" y="0" width="19.5" height="92.5" fill="#ff8282"/>
 <rect class="bar" x="1087.7" y="0" width="19.5" height="95" fill="#c9b8d8"/>
 <rect class="bar" x="1107.2" y="0" width="19.5" height="89" fill="#1cf08a"/>
 <rect class="bar" x="1126.7" y="0" width="19.5" height="96" fill="#8484ff"/>
 <rect class="bar" x="1146.2" y="0" width="19.5" height="91" fill="#ff8282"/>
 <path class="eb" d="M902.45 89.5V96.5M898.45 89.5H906.45M898.45 96.5H906.45M999.95 94V97M995.95 94H1003.95M995.95 97H1003.95M1097.45 93.5V96.5M1093.45 93.5H1101.45M1093.45 96.5H1101.45
 M921.95 88.5V91.5M917.95 88.5H925.95M917.95 91.5H925.95M1019.45 84V90M1015.45 84H1023.45M1015.45 90H1023.45M1116.95 86V92M1112.95 86H1120.95M1112.95 92H1120.95
 M941.45 92.5V95.5M937.45 92.5H945.45M937.45 95.5H945.45M1038.95 92.5V98.5M1034.95 92.5H1042.95M1034.95 98.5H1042.95M1136.45 92.5V99.5M1132.45 92.5H1140.45M1132.45 99.5H1140.45
 M960.95 93.5V98.5M956.95 93.5H964.95M956.95 98.5H964.95M1058.45 88.5V96.5M1054.45 88.5H1062.45M1054.45 96.5H1062.45M1155.95 86V96M1151.95 86H1159.95M1151.95 96H1159.95"/>
</g>
<rect class="ax" x="868" y="878" width="321" height="266"/>
<path class="tk" d="M863 1144H868M863 1067.7H868M863 991.4H868M863 915.1H868M865 1105.85H868M865 1029.55H868M865 953.25H868M931.7 1144V1149M1029.2 1144V1149M1126.7 1144V1149"/>
<g class="n" font-size="18" text-anchor="end">
 <text x="858" y="1150.5">0</text><text x="858" y="1074.2">40</text><text x="858" y="997.9">80</text><text x="858" y="921.6">120</text>
</g>
<g class="t" font-size="20" text-anchor="middle">
 <text x="932" y="1166">1</text><text x="1029" y="1166">3</text><text x="1127" y="1166">5</text>
</g>
<text class="t" x="1028" y="1189" font-size="22" text-anchor="middle">Culture Time (days)</text>
<text class="t" font-size="22" text-anchor="middle" transform="translate(825,1005) rotate(-90)">Cell Viability (%)</text>
<g stroke="#333" stroke-width="0.8">
 <rect x="879" y="888" width="26" height="13" fill="#c9b8d8"/>
 <rect x="991" y="888" width="26" height="13" fill="#1cf08a"/>
 <rect x="879" y="909" width="26" height="13" fill="#8484ff"/>
 <rect x="879" y="930" width="26" height="13" fill="#ff8282"/>
</g>
<g class="t" font-size="16.5">
 <text x="909" y="900">Control</text><text x="1021" y="900">PEGDA</text>
 <text x="909" y="921">PEGDA/C-HA</text><text x="909" y="942">PEGDA/C-HA-AMSN</text>
</g>
</svg>
</body></html>
